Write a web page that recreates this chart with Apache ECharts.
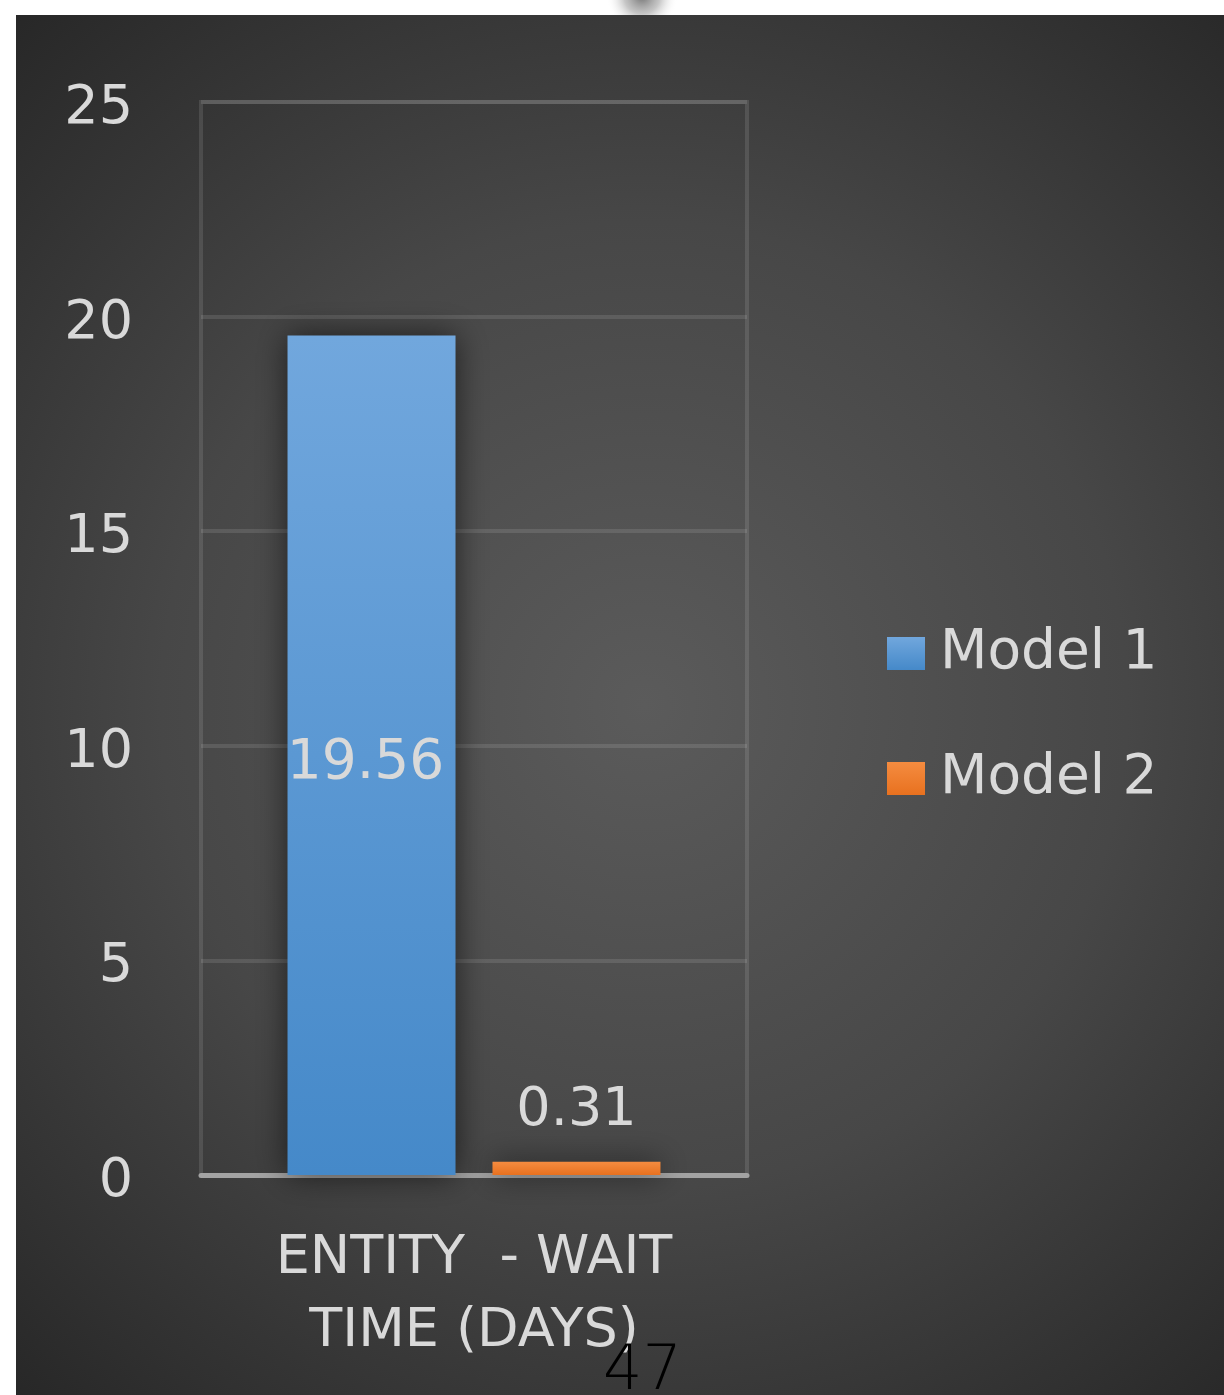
<!DOCTYPE html>
<html>
<head>
<meta charset="utf-8">
<script src="https://cdn.jsdelivr.net/npm/echarts@6/dist/echarts.min.js"></script>
<style>
  html, body { margin: 0; padding: 0; background: #ffffff; }
  #chart { width: 1224px; height: 1395px; }
</style>
</head>
<body>
<div id="chart"></div>
<script>
// Wait time per entity, in days
const categories = ['ENTITY  - WAIT\nTIME (DAYS)'];
const model1 = [19.56];
const model2 = [0.31];
const seriesNames = ['Model 1', 'Model 2'];
const pageNumber = '47';

const FONT = 'DejaVu Sans';
const TEXT = '#d9d9d9';

const blueFill = new echarts.graphic.LinearGradient(0, 0, 0, 1, [
  { offset: 0, color: '#71a7dd' },
  { offset: 1, color: '#4589c9' }
]);
const orangeFill = new echarts.graphic.LinearGradient(0, 0, 0, 1, [
  { offset: 0, color: '#f58c40' },
  { offset: 1, color: '#e8711f' }
]);

const chart = echarts.init(document.getElementById('chart'), null, { renderer: 'canvas' });

chart.setOption({
  animation: false,
  backgroundColor: '#ffffff',
  graphic: [
    {
      type: 'rect', z: -10, silent: true,
      shape: { x: 16, y: 15, width: 1208, height: 1380 },
      style: {
        fill: new echarts.graphic.RadialGradient(0.52, 0.5, 0.8, [
          { offset: 0, color: '#5b5b5b' },
          { offset: 0.5, color: '#474747' },
          { offset: 1, color: '#252525' }
        ])
      }
    },
    {
      // soft grey smudge above the panel
      type: 'circle', z: -11, silent: true,
      shape: { cx: 642, cy: -4, r: 36 },
      style: {
        fill: new echarts.graphic.RadialGradient(0.5, 0.5, 0.5, [
          { offset: 0, color: 'rgba(100,100,100,0.9)' },
          { offset: 0.5, color: 'rgba(160,160,160,0.6)' },
          { offset: 1, color: 'rgba(255,255,255,0)' }
        ])
      }
    },
    {
      type: 'text', z: 10, silent: true,
      left: 603, top: 1342,
      style: {
        text: pageNumber, fill: '#000000',
        font: '200 62px "DejaVu Sans"'
      }
    }
  ],
  grid: {
    left: 201, right: 477, top: 102, bottom: 220,
    show: true, borderColor: 'rgba(255,255,255,0.11)', borderWidth: 4,
    backgroundColor: 'transparent'
  },
  legend: {
    orient: 'vertical',
    left: 887, top: 626,
    padding: 0,
    itemWidth: 38, itemHeight: 33,
    itemGap: 70,
    icon: 'rect',
    data: seriesNames,
    textStyle: { color: TEXT, fontSize: 55, fontFamily: FONT, padding: [0, 0, 0, 10] }
  },
  xAxis: {
    type: 'category',
    data: categories,
    axisLine: { show: true, lineStyle: { color: '#a3a3a3', width: 5 } },
    axisTick: { show: false },
    axisLabel: {
      color: TEXT, fontSize: 54, fontFamily: FONT, lineHeight: 73, margin: 47
    }
  },
  yAxis: {
    type: 'value',
    min: 0, max: 25, interval: 5,
    axisLine: { show: false },
    axisTick: { show: false },
    axisLabel: {
      margin: 68,
      formatter: '{t|{value}}',
      rich: {
        t: { color: TEXT, fontSize: 54, fontFamily: FONT, padding: [14, 0, 0, 0] }
      }
    },
    splitLine: { lineStyle: { color: 'rgba(255,255,255,0.11)', width: 4 } }
  },
  series: [
    {
      name: seriesNames[0],
      type: 'bar',
      data: model1,
      barWidth: 168,
      barGap: '22%',
      itemStyle: { color: blueFill, shadowBlur: 30, shadowColor: 'rgba(0,0,0,0.6)' },
      label: {
        show: true, position: 'inside', formatter: '{c}',
        color: TEXT, fontSize: 55, fontFamily: FONT, offset: [-6, 8]
      }
    },
    {
      name: seriesNames[1],
      type: 'bar',
      data: model2,
      barWidth: 168,
      itemStyle: { color: orangeFill, shadowBlur: 30, shadowColor: 'rgba(0,0,0,0.6)' },
      label: {
        show: true, position: 'top', distance: 24, formatter: '{c}',
        color: TEXT, fontSize: 54, fontFamily: FONT
      }
    }
  ]
});
</script>
</body>
</html>
